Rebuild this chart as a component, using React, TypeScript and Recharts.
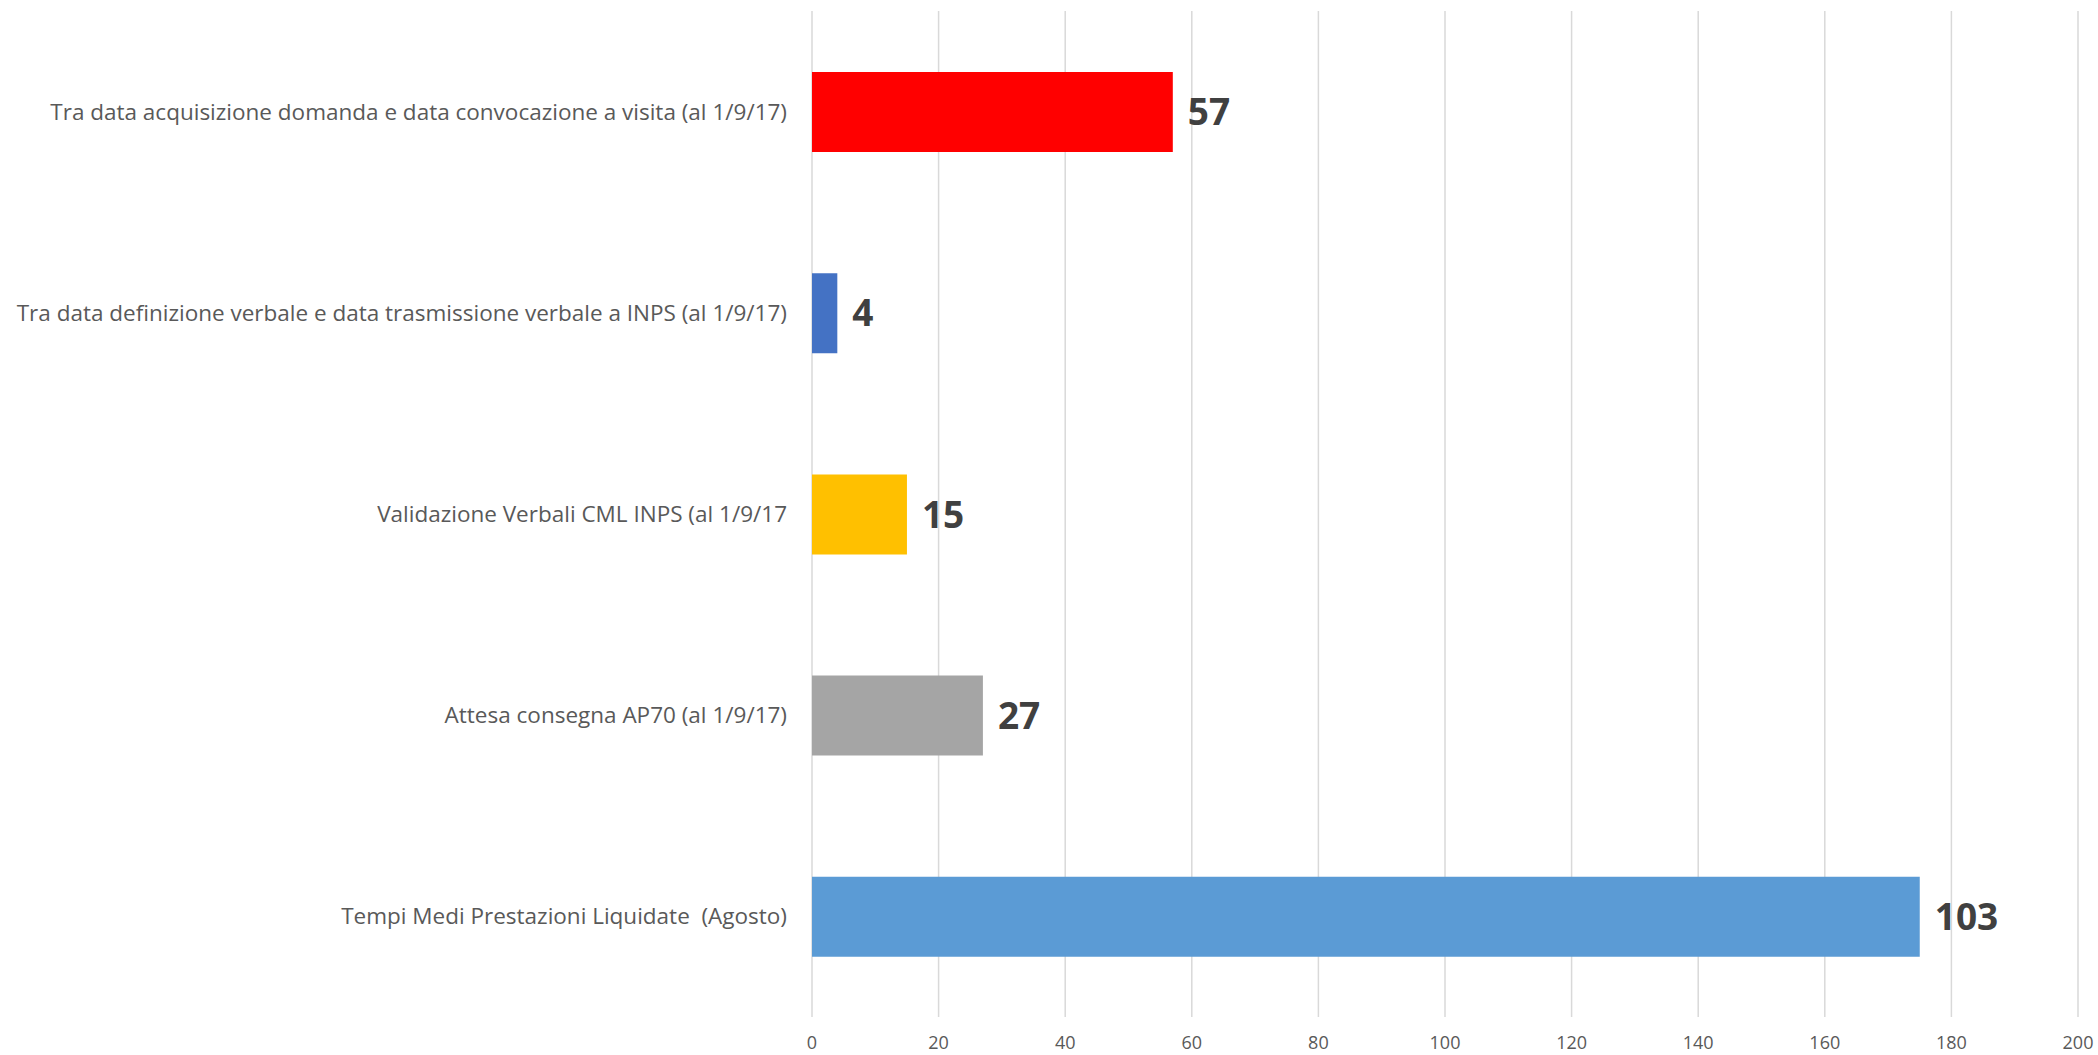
import { BarChart, Bar, XAxis, YAxis, CartesianGrid, Cell, LabelList } from "recharts";

const categories = [
  "Tra data acquisizione domanda e data convocazione a visita (al 1/9/17)",
  "Tra data definizione verbale e data trasmissione verbale a INPS (al 1/9/17)",
  "Validazione Verbali CML INPS (al 1/9/17",
  "Attesa consegna AP70 (al 1/9/17)",
  "Tempi Medi Prestazioni Liquidate \u00a0(Agosto)",
];
// bar lengths as drawn; the last bar is drawn longer than its printed label
const values = [57, 4, 15, 27, 175];
const valueLabels = ["57", "4", "15", "27", "103"];
const colors = ["#FF0000", "#4472C4", "#FFC000", "#A5A5A5", "#5B9BD5"];
const xTicks = [0, 20, 40, 60, 80, 100, 120, 140, 160, 180, 200];

const FONT = "'Open Sans', sans-serif";

export default function App() {
  const data = categories.map((c, i) => ({ name: c, value: values[i], label: valueLabels[i] }));
  return (
    <div style={{ width: 2098, height: 1055, background: "#fff", fontFamily: FONT }}>
      <style>{"body{margin:0}"}</style>
      <BarChart
        width={2098}
        height={1055}
        data={data}
        layout="vertical"
        margin={{ top: 11, right: 20, bottom: 0, left: 0 }}
      >
        <CartesianGrid horizontal={false} stroke="#D9D9D9" strokeWidth={1.5} />
        <XAxis
          type="number"
          domain={[0, 200]}
          ticks={xTicks}
          axisLine={false}
          tickLine={false}
          tickSize={0}
          tickMargin={19}
          height={38}
          interval={0}
          tick={{ fill: "#595959", fontSize: 18, fontFamily: FONT }}
        />
        <YAxis
          type="category"
          dataKey="name"
          width={812}
          axisLine={false}
          tickLine={false}
          tickSize={0}
          tickMargin={25}
          interval={0}
          tick={{ fill: "#595959", fontSize: 22.5, fontFamily: FONT }}
        />
        <Bar dataKey="value" barSize={80} isAnimationActive={false}>
          {data.map((d, i) => (
            <Cell key={d.name} fill={colors[i]} />
          ))}
          <LabelList
            dataKey="label"
            position="right"
            offset={15}
            fill="#404040"
            fontSize={37}
            fontWeight={700}
            fontFamily={FONT}
          />
        </Bar>
      </BarChart>
    </div>
  );
}
